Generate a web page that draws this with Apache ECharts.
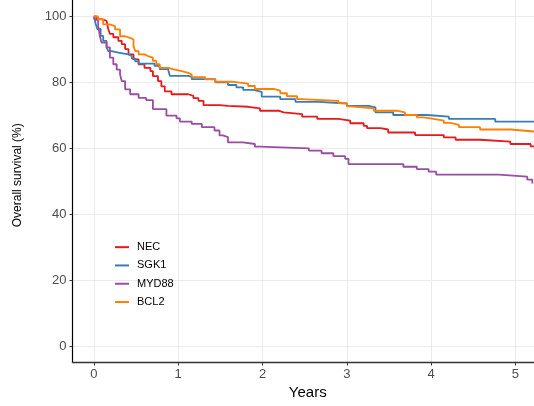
<!DOCTYPE html>
<html>
<head>
<meta charset="utf-8">
<script src="https://cdn.jsdelivr.net/npm/echarts@6/dist/echarts.min.js"></script>
<style>
html,body{margin:0;padding:0;background:#fff;}
#chart{width:534px;height:406px;}
</style>
</head>
<body>
<div id="chart"></div>
<script>
// Years (x) tick values and Overall survival (%) tick values
const xTicks = [0, 1, 2, 3, 4, 5];
const yTicks = [0, 20, 40, 60, 80, 100];
const groups = ['NEC', 'SGK1', 'MYD88', 'BCL2'];

// NEC
const necTime = [0, 0.03, 0.09, 0.15, 0.17, 0.19, 0.23, 0.29, 0.33, 0.37, 0.41, 0.47, 0.53, 0.60, 0.67, 0.70, 0.76, 0.80, 0.84, 0.92, 1.12, 1.18, 1.24, 1.30, 1.49, 1.59, 1.83, 1.97, 2.19, 2.25, 2.47, 2.65, 2.90, 3.04, 3.20, 3.24, 3.40, 3.49, 3.81, 4.15, 4.29, 4.58, 4.94, 5.18, 5.22];
const necSurv = [100, 99.2, 98.7, 98.2, 96.2, 94.7, 93.7, 92.6, 91.6, 90.1, 88.5, 87.0, 85.5, 84.4, 83.4, 81.9, 80.4, 78.8, 77.3, 76.4, 75.9, 75.2, 74.4, 73.1, 72.9, 72.6, 72.1, 71.4, 70.9, 70.4, 69.6, 68.9, 68.4, 67.6, 66.8, 66.1, 65.7, 64.8, 64.0, 63.3, 62.6, 62.0, 61.3, 60.6, 60.6];

// SGK1
const sgkTime = [0, 0.02, 0.04, 0.08, 0.11, 0.15, 0.17, 0.21, 0.29, 0.41, 0.45, 0.49, 0.53, 0.72, 0.78, 0.88, 0.90, 1.12, 1.16, 1.44, 1.59, 1.69, 1.77, 1.89, 1.99, 2.21, 2.39, 2.66, 3.00, 3.26, 3.34, 3.55, 3.95, 4.21, 4.76, 5.22];
const sgkSurv = [100, 97.9, 96.2, 94.1, 92.6, 90.6, 89.5, 89.0, 88.5, 88.0, 87.2, 86.4, 85.7, 85.0, 84.0, 83.5, 82.0, 81.7, 81.0, 80.0, 79.2, 78.5, 77.7, 77.1, 75.7, 74.9, 74.1, 73.6, 72.9, 72.4, 70.9, 70.1, 69.6, 68.9, 68.1, 68.1];

// MYD88
const mydTime = [0, 0.01, 0.05, 0.07, 0.09, 0.15, 0.19, 0.23, 0.27, 0.31, 0.33, 0.37, 0.43, 0.53, 0.62, 0.70, 0.86, 0.98, 1.02, 1.16, 1.28, 1.43, 1.49, 1.53, 1.59, 1.77, 1.91, 1.97, 2.55, 2.70, 2.84, 2.98, 3.02, 3.67, 3.83, 3.97, 4.06, 4.80, 5.14, 5.20];
const mydSurv = [100, 99.0, 97.2, 94.1, 92.1, 90.6, 87.5, 85.5, 83.9, 82.4, 80.4, 77.9, 76.4, 75.3, 74.6, 71.9, 69.9, 69.1, 68.1, 67.4, 66.4, 65.4, 63.9, 63.4, 61.8, 61.3, 60.5, 60.0, 59.3, 58.5, 57.6, 56.8, 55.2, 54.4, 53.7, 52.9, 52.0, 51.4, 50.5, 49.3];

// BCL2
const bclTime = [0, 0.05, 0.11, 0.19, 0.25, 0.31, 0.37, 0.43, 0.47, 0.49, 0.53, 0.60, 0.64, 0.70, 0.74, 0.78, 0.88, 0.96, 1.04, 1.12, 1.16, 1.32, 1.44, 1.63, 1.83, 1.91, 2.13, 2.21, 2.29, 2.41, 2.45, 2.90, 3.00, 3.04, 3.32, 3.59, 3.69, 3.83, 3.91, 4.03, 4.15, 4.23, 4.33, 4.58, 4.94, 5.22];
const bclSurv = [100, 99.1, 97.6, 97.1, 96.1, 94.0, 93.5, 93.0, 91.0, 89.5, 88.5, 88.0, 87.5, 86.5, 85.5, 84.4, 83.9, 83.4, 82.9, 82.4, 81.6, 80.9, 80.2, 79.6, 78.9, 78.0, 77.5, 76.7, 75.8, 74.9, 74.4, 73.7, 72.7, 72.1, 71.4, 70.9, 70.1, 69.4, 68.9, 68.4, 67.7, 67.1, 66.4, 65.7, 65.1, 65.1];

const colors = ['#E41A1C', '#377EB8', '#984EA3', '#FF7F00'];
const times = [necTime, sgkTime, mydTime, bclTime];
const survs = [necSurv, sgkSurv, mydSurv, bclSurv];

const font = '"Liberation Sans", Arial, sans-serif';
const chart = echarts.init(document.getElementById('chart'), null, {renderer: 'canvas'});

const series = groups.map((g, i) => ({
  name: g,
  type: 'line',
  step: 'end',
  showSymbol: false,
  symbol: 'none',
  data: times[i].map((t, j) => [t, survs[i][j]]),
  lineStyle: {color: colors[i], width: 1.8},
  itemStyle: {color: colors[i]},
  emphasis: {disabled: true},
  animation: false
}));

chart.setOption({
  animation: false,
  backgroundColor: '#ffffff',
  grid: {left: 72.5, right: 0, top: 0, bottom: 43.5, containLabel: false},
  legend: {
    orient: 'vertical',
    left: 115,
    top: 238,
    padding: 0,
    icon: 'rect',
    itemWidth: 14,
    itemHeight: 2,
    itemGap: 0,
    data: groups,
    textStyle: {fontFamily: font, fontSize: 11, color: '#000', lineHeight: 18.3, padding: [0, 0, 0, 3]}
  },
  xAxis: {
    type: 'value',
    min: -0.254,
    max: 5.22,
    name: 'Years',
    nameLocation: 'middle',
    nameGap: 20,
    nameTextStyle: {fontFamily: font, fontSize: 15, color: '#000', padding: [0, 0, 0, 9]},
    axisLine: {show: true, onZero: false, lineStyle: {color: '#333', width: 1.3}},
    axisTick: {show: true, length: 3, customValues: xTicks, lineStyle: {color: '#333', width: 1}},
    axisLabel: {customValues: xTicks, fontFamily: font, fontSize: 13, color: '#4d4d4d', margin: 5, formatter: v => String(v)},
    splitLine: {show: true, lineStyle: {color: '#ebebeb', width: 1}}
  },
  yAxis: {
    type: 'value',
    min: -5,
    max: 105,
    name: 'Overall survival (%)',
    nameLocation: 'middle',
    nameRotate: 90,
    nameGap: 49,
    nameTextStyle: {fontFamily: font, fontSize: 12, color: '#000', padding: [0, 0, 0, 12]},
    axisLine: {show: true, onZero: false, lineStyle: {color: '#000', width: 1.2}},
    axisTick: {show: true, length: 3, customValues: yTicks, lineStyle: {color: '#333', width: 1}},
    axisLabel: {customValues: yTicks, fontFamily: font, fontSize: 13, color: '#4d4d4d', margin: 6, formatter: v => String(v)},
    splitLine: {show: true, lineStyle: {color: '#ebebeb', width: 1}}
  },
  series: series
});
</script>
</body>
</html>
